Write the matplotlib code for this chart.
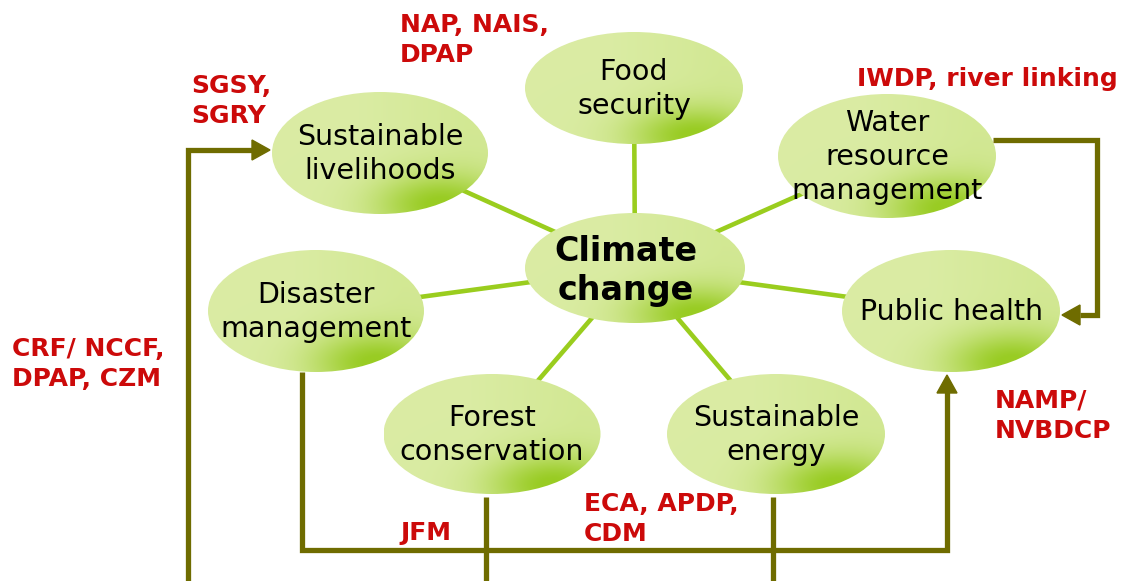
import numpy as np
import matplotlib
matplotlib.use("Agg")
import matplotlib.pyplot as plt
from matplotlib.patches import Ellipse, Polygon

# ---- data ----
node_labels = ["Climate\nchange", "Food\nsecurity", "Sustainable\nlivelihoods",
               "Water\nresource\nmanagement", "Disaster\nmanagement", "Public health",
               "Forest\nconservation", "Sustainable\nenergy"]
node_x = [635, 634, 380, 887, 316, 951, 492, 776]
node_y = [268, 88, 153, 156, 311, 311, 434, 434]
node_w = [220, 218, 216, 218, 216, 218, 217, 218]
node_h = [110, 112, 122, 124, 122, 122, 120, 120]

scheme_labels = ["NAP, NAIS,\nDPAP", "SGSY,\nSGRY", "IWDP, river linking",
                 "CRF/ NCCF,\nDPAP, CZM", "NAMP/\nNVBDCP", "ECA, APDP,\nCDM", "JFM"]
scheme_x = [400, 191, 857, 12, 995, 584, 400]
scheme_y = [13, 74, 67, 337, 389, 492, 521]

# flow paths (olive arrows)
path_left_x = [188, 188, 252]
path_left_y = [581, 150, 150]
path_right_x = [993, 1097, 1097, 1080]
path_right_y = [140, 140, 315, 315]
path_bottom_x = [302, 302, 947, 947]
path_bottom_y = [372, 550, 550, 392]
drop_x = [486, 773]
drop_top = [497, 497]

W, H = 1139, 581
fig = plt.figure(figsize=(W / 100, H / 100), dpi=100)
ax = fig.add_axes([0, 0, 1, 1])
ax.set_xlim(0, W)
ax.set_ylim(H, 0)
ax.axis("off")

spoke = "#9acd1e"
olive = "#6f6c00"
red = "#cc0a0a"

# spokes
for i in range(1, len(node_x)):
    ax.plot([node_x[0], node_x[i]], [node_y[0], node_y[i]], color=spoke, lw=3.3, zorder=1,
            solid_capstyle="butt")

light = np.array([0.855, 0.925, 0.64])
dark = np.array([0.60, 0.80, 0.14])
n = 200
uu, vv = np.meshgrid(np.linspace(-1, 1, n), np.linspace(-1, 1, n))
t = np.exp(-((uu - 0.55) ** 2 / 0.35 + (vv - 0.85) ** 2 / 0.25))
t = np.clip(t * 0.95 + 0.12 * np.clip((uu + 0.2), 0, 1), 0, 1)
grad = light[None, None, :] * (1 - t[..., None]) + dark[None, None, :] * t[..., None]

for i, (cx, cy, w, h, lab) in enumerate(zip(node_x, node_y, node_w, node_h, node_labels)):
    e = Ellipse((cx, cy), w, h, facecolor="none", edgecolor="none", zorder=2)
    ax.add_patch(e)
    im = ax.imshow(grad, extent=(cx - w / 2, cx + w / 2, cy + h / 2, cy - h / 2),
                   origin="upper", zorder=2, interpolation="bilinear", aspect="auto")
    im.set_clip_path(e)
    if i == 0:
        ax.text(cx - 9, cy + 3, lab, ha="center", va="center", fontsize=24,
                fontweight="bold", color="black", linespacing=1.22, zorder=3)
    else:
        ax.text(cx, cy + 1, lab, ha="center", va="center", fontsize=20.5,
                color="black", linespacing=1.28, zorder=3)

ax.set_xlim(0, W)
ax.set_ylim(H, 0)

def arrow_head(tip, direction, length=18, half=10):
    tx, ty = tip
    dx, dy = direction
    bx, by = tx - dx * length, ty - dy * length
    px, py = -dy, dx
    ax.add_patch(Polygon([(tx, ty), (bx + px * half, by + py * half),
                          (bx - px * half, by - py * half)], closed=True,
                         facecolor=olive, edgecolor=olive, zorder=5))

kw = dict(color=olive, lw=3.8, zorder=4, solid_joinstyle="miter", solid_capstyle="butt")
ax.plot(path_left_x, path_left_y, **kw)
arrow_head((270, 150), (1, 0))
ax.plot(path_right_x, path_right_y, **kw)
arrow_head((1062, 315), (-1, 0))
ax.plot(path_bottom_x, path_bottom_y, **kw)
arrow_head((947, 375), (0, -1))
for x, y0 in zip(drop_x, drop_top):
    ax.plot([x, x], [y0, H], **kw)

for lab, x, y in zip(scheme_labels, scheme_x, scheme_y):
    ax.text(x, y, lab, ha="left", va="top", fontsize=18, fontweight="bold",
            color=red, linespacing=1.3, zorder=6)

fig.savefig("out.png", dpi=100)
